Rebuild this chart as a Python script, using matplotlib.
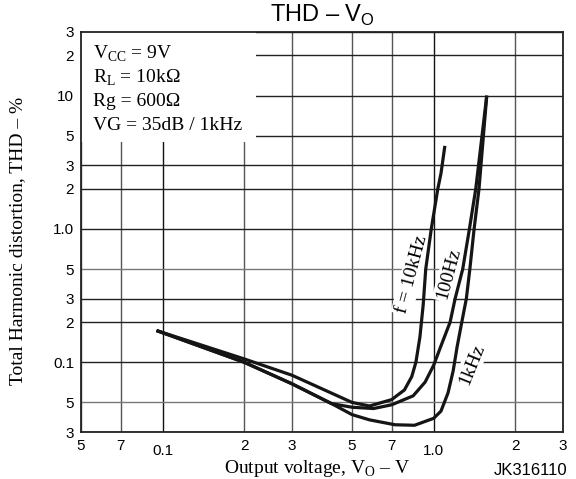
import matplotlib.pyplot as plt
from matplotlib.patches import Rectangle
from matplotlib.ticker import NullLocator

plt.rcParams["mathtext.fontset"] = "custom"
plt.rcParams["mathtext.rm"] = "Liberation Serif"
plt.rcParams["mathtext.sf"] = "Liberation Sans"

# THD vs output voltage (V, %)
vo_10k = [0.095, 0.2, 0.3, 0.5, 0.58, 0.7, 0.78, 0.83, 0.86, 0.89, 0.915, 0.935, 0.98, 1.036, 1.064, 1.10]
thd_10k = [0.173, 0.106, 0.08, 0.05, 0.047, 0.0525, 0.062, 0.078, 0.1, 0.155, 0.27, 0.5, 1.0, 2.0, 2.6, 4.2]

vo_100 = [0.095, 0.2, 0.3, 0.42, 0.5, 0.6, 0.7, 0.84, 0.93, 1.0, 1.06, 1.15, 1.2, 1.28, 1.355, 1.43, 1.57]
thd_100 = [0.173, 0.1, 0.069, 0.049, 0.046, 0.045, 0.048, 0.056, 0.071, 0.095, 0.13, 0.2, 0.3, 0.5, 1.0, 2.0, 10]

vo_1k = [0.095, 0.2, 0.3, 0.42, 0.5, 0.58, 0.72, 0.85, 1.0, 1.064, 1.13, 1.18, 1.22, 1.27, 1.32, 1.36, 1.41, 1.47, 1.57]
thd_1k = [0.173, 0.1, 0.069, 0.049, 0.0405, 0.037, 0.034, 0.0337, 0.038, 0.043, 0.059, 0.086, 0.13, 0.2, 0.3, 0.5, 1.0, 2.0, 10]

curve_labels = ["f = 10kHz", "100Hz", "1kHz"]
label_pos = [(0.83, 0.46), (1.14, 0.46), (1.38, 0.097)]
label_rot = [75, 75, 68]

xticks = [0.05, 0.07, 0.1, 0.2, 0.3, 0.5, 0.7, 1.0, 2, 3]
xtick_labels = ["5", "7", "0.1", "2", "3", "5", "7", "1.0", "2", "3"]
yticks = [0.03, 0.05, 0.1, 0.2, 0.3, 0.5, 1.0, 2, 3, 5, 10, 20, 30]
ytick_labels = ["3", "5", "0.1", "2", "3", "5", "1.0", "2", "3", "5", "10", "2", "3"]

conditions = [r"V$_{\rm CC}$ = 9V", r"R$_{\rm L}$ = 10kΩ", "Rg = 600Ω", "VG = 35dB / 1kHz"]

serif = "Liberation Serif"
sans = "Liberation Sans"

fig = plt.figure(figsize=(5.76, 4.79), dpi=100)
ax = fig.add_axes([0.1406, 0.0981, 0.8368, 0.8351])
ax.set_xscale("log")
ax.set_yscale("log")
ax.set_xlim(0.05, 3)
ax.set_ylim(0.03, 30)

# ticks: only the labelled grid values, no tick marks
ax.set_xticks(xticks, xtick_labels, fontsize=11, family=sans)
ax.set_yticks(yticks, ytick_labels, fontsize=11, family=sans)
ax.xaxis.set_minor_locator(NullLocator())
ax.yaxis.set_minor_locator(NullLocator())
ax.tick_params(length=0)
ax.tick_params(axis="x", pad=5)
ax.tick_params(axis="y", pad=5)
for lab in ax.get_xticklabels():
    if lab.get_text() in ("0.1", "1.0"):
        lab.set_y(-0.012)

ax.set_axisbelow(True)
ax.grid(True, color="#444444", lw=1.0)
for val, gl in zip(xticks, ax.get_xgridlines()):
    gl.set_color("#111111" if val in (0.1, 1.0) else "#555555")
for val, gl in zip(yticks, ax.get_ygridlines()):
    gl.set_color("#777777" if val in (0.05, 0.5) else "#222222")

for sp in ax.spines.values():
    sp.set_linewidth(1.3)
    sp.set_color("#222222")
    sp.set_zorder(6)

# white box for the test conditions, hides the grid behind it
ax.add_patch(Rectangle((0, 0.725), 0.363, 0.275, transform=ax.transAxes,
                       facecolor="white", edgecolor="none", zorder=1))
for i, txt in enumerate(conditions):
    ax.text(0.025, 0.9325 - i * 0.059, txt, transform=ax.transAxes,
            family=serif, fontsize=14, va="baseline", ha="left", zorder=2)

for xs, ys in [(vo_10k, thd_10k), (vo_100, thd_100), (vo_1k, thd_1k)]:
    ax.plot(xs, ys, color="#151515", lw=2.3, solid_capstyle="butt",
            solid_joinstyle="round", zorder=4)

for txt, (lx, ly), rot in zip(curve_labels, label_pos, label_rot):
    ax.text(lx, ly, txt, rotation=rot, rotation_mode="anchor", ha="center",
            va="center", family=serif, fontsize=14, zorder=3,
            bbox=dict(facecolor="white", edgecolor="none", pad=1.5))

fig.text(0.559, (479 - 22) / 479, r"THD – V$_{\mathsf{O}}$", family=sans,
         fontsize=17, ha="center", va="baseline")
fig.text(0.551, (479 - 473) / 479, r"Output voltage, V$_{\rm O}$ – V",
         family=serif, fontsize=14, ha="center", va="baseline")
fig.text(18 / 576, 1 - 241 / 479, "Total Harmonic distortion, THD – %",
         family=serif, fontsize=14, rotation=90, ha="center", va="center")
fig.text(567 / 576, (479 - 475) / 479, "JK316110", family=sans, fontsize=12,
         ha="right", va="baseline")

fig.savefig("out.png", dpi=100)
